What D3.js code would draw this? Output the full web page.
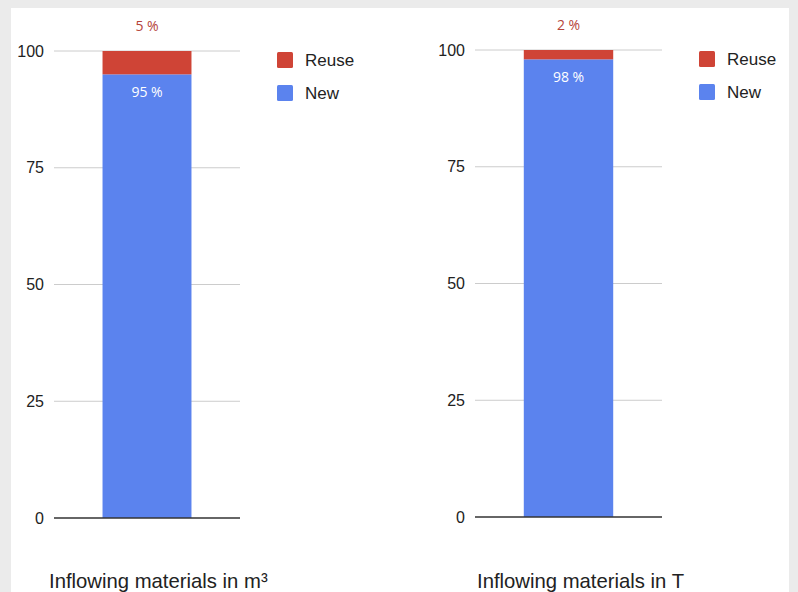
<!DOCTYPE html>
<html><head><meta charset="utf-8">
<script src="https://cdn.jsdelivr.net/npm/d3@7"></script>
<style>
html,body{margin:0;padding:0;background:#ebebeb;}
svg{display:block;}
</style></head>
<body>
<svg id="chart" width="798" height="592"></svg>
<script>
const chartTitles = ["Inflowing materials in m³", "Inflowing materials in T"];
const reuseValues = [5, 2];
const newValues = [95, 98];
const seriesNames = ["Reuse", "New"];
const seriesColors = ["#cf4436", "#5b83ee"];
const yTicks = [0, 25, 50, 75, 100];

const svg = d3.select("#chart");
svg.append("rect").attr("x", 11).attr("y", 8).attr("width", 778).attr("height", 584).attr("fill", "#fff");

const panels = [
  {x0: 54, x1: 240, top: 51, bottom: 518, titleX: 49},
  {x0: 475, x1: 662, top: 50, bottom: 517, titleX: 477}
];

panels.forEach((p, i) => {
  const g = svg.append("g");
  const y = d3.scaleLinear().domain([0, 100]).range([p.bottom, p.top]);
  const x = d3.scaleBand().domain([chartTitles[i]]).range([p.x0, p.x1]).paddingInner(0.353).paddingOuter(0.353);

  // gridlines
  g.selectAll(".grid").data(yTicks.filter(t => t > 0)).join("line")
    .attr("x1", p.x0).attr("x2", p.x1)
    .attr("y1", d => y(d)).attr("y2", d => y(d))
    .attr("stroke", "#cccccc").attr("stroke-width", 1);

  // axis labels
  const axis = d3.axisLeft(y).tickValues(yTicks).tickSize(0).tickPadding(10);
  const ag = g.append("g").attr("transform", `translate(${p.x0},0)`).call(axis);
  ag.select(".domain").remove();
  ag.selectAll("text").attr("font-family", "Liberation Sans, Arial, sans-serif")
    .attr("font-size", 16).attr("fill", "#222");

  const cat = chartTitles[i];
  const bx = x(cat), bw = x.bandwidth();
  const stack = [
    {name: seriesNames[1], y0: 0, y1: newValues[i], color: seriesColors[1]},
    {name: seriesNames[0], y0: newValues[i], y1: newValues[i] + reuseValues[i], color: seriesColors[0]}
  ];
  g.selectAll(".bar").data(stack).join("rect")
    .attr("x", bx).attr("width", bw)
    .attr("y", d => y(d.y1)).attr("height", d => y(d.y0) - y(d.y1))
    .attr("fill", d => d.color);

  // baseline
  g.append("line").attr("x1", p.x0).attr("x2", p.x1)
    .attr("y1", y(0)).attr("y2", y(0))
    .attr("stroke", "#333").attr("stroke-width", 1.5);

  // value labels
  g.append("text").attr("x", bx + bw / 2).attr("y", y(100) - 20)
    .attr("text-anchor", "middle").attr("font-family", "Open Sans, sans-serif")
    .attr("font-size", 14).attr("fill", "#b5453a")
    .text(reuseValues[i] + " %");
  g.append("text").attr("x", bx + bw / 2).attr("y", y(newValues[i]) + 23)
    .attr("text-anchor", "middle").attr("font-family", "Open Sans, sans-serif")
    .attr("font-size", 14).attr("fill", "#ffffff")
    .text(newValues[i] + " %");

  // legend
  const lg = g.append("g").attr("transform", `translate(${p.x1 + 37},${p.top + 1})`);
  seriesNames.forEach((s, j) => {
    lg.append("rect").attr("x", 0).attr("y", j * 33).attr("width", 16).attr("height", 16)
      .attr("rx", 1.5).attr("fill", seriesColors[j]);
    lg.append("text").attr("x", 28).attr("y", j * 33 + 8).attr("dy", "0.35em")
      .attr("font-family", "Liberation Sans, Arial, sans-serif").attr("font-size", 17)
      .attr("fill", "#222").text(s);
  });

  // title
  g.append("text").attr("x", p.titleX).attr("y", 588)
    .attr("font-family", "Liberation Sans, Arial, sans-serif").attr("font-size", 20.3)
    .attr("fill", "#222").text(chartTitles[i]);
});
</script>
</body></html>
